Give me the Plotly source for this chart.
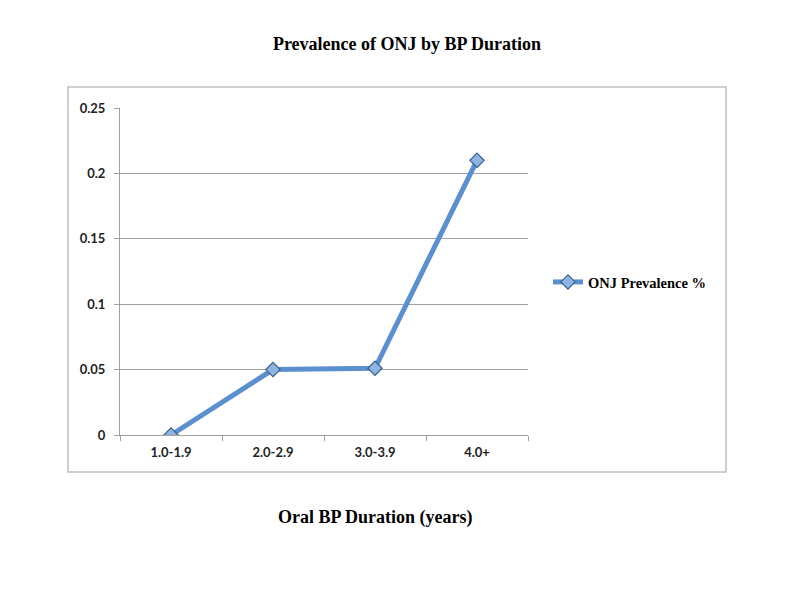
import plotly.graph_objects as go

categories = ["1.0-1.9", "2.0-2.9", "3.0-3.9", "4.0+"]
prevalence = [0.0, 0.05, 0.051, 0.21]
y_ticks = [0, 0.05, 0.1, 0.15, 0.2, 0.25]
y_tick_labels = ["0", "0.05", "0.1", "0.15", "0.2", "0.25"]

OFF = 8  # page offset of the figure in the browser
W, H = 794, 606
pw, ph = 408, 327
L, T = 120 - OFF, 108 - OFF
R = W - L - pw
B = H - T - ph

def px(x):
    return (x - OFF - L) / pw

def py(y):
    return (H - B - (y - OFF)) / ph

fig = go.Figure()
fig.add_trace(go.Scatter(
    x=categories, y=prevalence, mode="lines+markers",
    name="<b>ONJ Prevalence %</b>",
    line=dict(color="#5B8FCF", width=5),
    marker=dict(symbol="diamond", size=11, color="#8DB3E2",
                line=dict(color="#3A5F8A", width=1.2)),
))

fig.update_layout(
    width=W, height=H,
    margin=dict(l=L, r=R, t=T, b=B),
    paper_bgcolor="white", plot_bgcolor="white",
    title=dict(text="<b>Prevalence of ONJ by BP Duration</b>",
               x=(407 - OFF) / W, xanchor="center", y=1 - (44 - OFF) / H, yanchor="middle",
               font=dict(family="Liberation Serif", size=18, color="black")),
    showlegend=True,
    legend=dict(x=px(548), y=py(282), xanchor="left", yanchor="middle",
                font=dict(family="Liberation Serif", size=14.5, color="black"),
                bgcolor="rgba(0,0,0,0)", itemwidth=30),
    shapes=[dict(type="rect", xref="paper", yref="paper",
                 x0=px(68), x1=px(726), y0=py(472), y1=py(87),
                 line=dict(color="#BFBFBF", width=1.5), layer="below")],
    annotations=[dict(text="<b>Oral BP Duration (years)</b>", xref="paper", yref="paper",
                      x=px(375), y=py(518), xanchor="center", yanchor="middle",
                      showarrow=False,
                      font=dict(family="Liberation Serif", size=18, color="black"))],
)

fig.update_xaxes(
    type="category", range=[-0.5, 3.5], tickson="boundaries",
    ticks="outside", ticklen=5, tickcolor="#A0A0A0",
    showline=True, linecolor="#A0A0A0", linewidth=1,
    showgrid=False, zeroline=False,
    tickvals=categories, ticktext=["<b>%s</b>" % c for c in categories],
    tickfont=dict(family="Lato", size=13, color="#222"),
    ticklabelstandoff=5,
)
fig.update_yaxes(
    range=[0, 0.25], tickvals=y_ticks, ticktext=["<b>%s</b>" % t for t in y_tick_labels],
    ticks="outside", ticklen=5, tickcolor="#A0A0A0",
    showline=True, linecolor="#A0A0A0", linewidth=1,
    showgrid=True, gridcolor="#A0A0A0", gridwidth=1, zeroline=False,
    tickfont=dict(family="Lato", size=13, color="#222"),
    ticklabelstandoff=6,
)

fig.write_html("out.html")
